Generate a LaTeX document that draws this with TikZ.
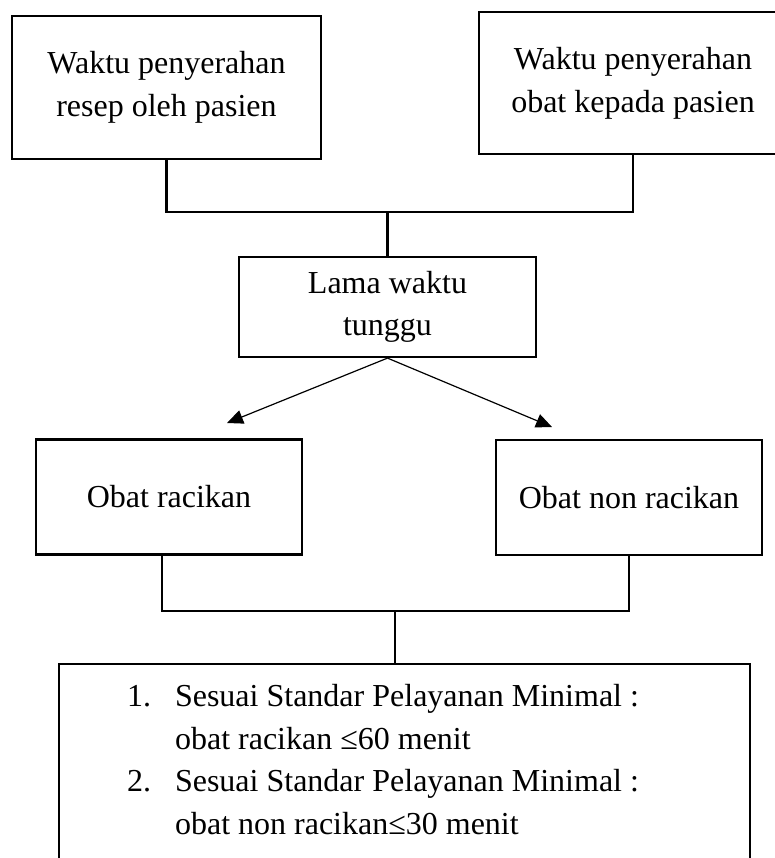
\documentclass[tikz,border=0pt]{standalone}
\usepackage{fontspec}
\setmainfont{Liberation Serif}
\usetikzlibrary{arrows.meta,positioning,calc}

\begin{document}
\begin{tikzpicture}[x=0.5pt,y=-0.5pt,
    kotak/.style={draw,line width=1.1pt,align=center,inner sep=0pt,
      font=\fontsize{16}{21.3}\selectfont},
    garis/.style={line width=1.1pt},
    panah/.style={line width=0.6pt,-{Triangle[length=8pt,width=7pt]}}]
   \useasboundingbox (0,0) rectangle (775,858);
   \node[kotak,minimum width=154.5pt,minimum height=71.5pt] (resep) at (166.5,87.5)
      {Waktu penyerahan\\resep oleh pasien};
   \node[kotak,minimum width=154pt,minimum height=71pt] (obat) at (633,83)
      {Waktu penyerahan\\obat kepada pasien};
   \node[kotak,minimum width=148.5pt,minimum height=50pt] (lama) at (387.5,307)
      {Lama waktu\\tunggu};
   \node[kotak,minimum width=133pt,minimum height=57.5pt] (racik) at (169,497)
      {Obat racikan};
   \node[kotak,minimum width=133pt,minimum height=57.5pt] (nonracik) at (629,497.5)
      {Obat non racikan};
   \node[kotak,minimum width=345.5pt,minimum height=98pt] (spm) at (404.5,762)
      {\begin{tabular}{@{}r@{\hspace{12pt}}l@{}}
        1. & Sesuai Standar Pelayanan Minimal :\\
           & obat racikan ≤60 menit\\
        2. & Sesuai Standar Pelayanan Minimal :\\
           & obat non racikan≤30 menit
       \end{tabular}\hspace{21.5pt}};
   \coordinate (j1) at (387.5,212);
   \coordinate (j2) at (395,611);
   \coordinate (ujungkiri) at (227,423);
   \coordinate (ujungkanan) at (552,427);
    % garis penghubung
    \draw[garis] (resep.south) |- (j1) -| (obat.south);
    \draw[garis] (j1) -- (lama.north);
    \draw[garis] ([xshift=-3.5pt]racik.south) |- (j2) -| (nonracik.south);
    \draw[garis] (j2) -- (j2 |- spm.north);
    \draw[panah] (lama.south) -- (ujungkiri);
    \draw[panah] (lama.south) -- (ujungkanan);
\end{tikzpicture}
\end{document}
